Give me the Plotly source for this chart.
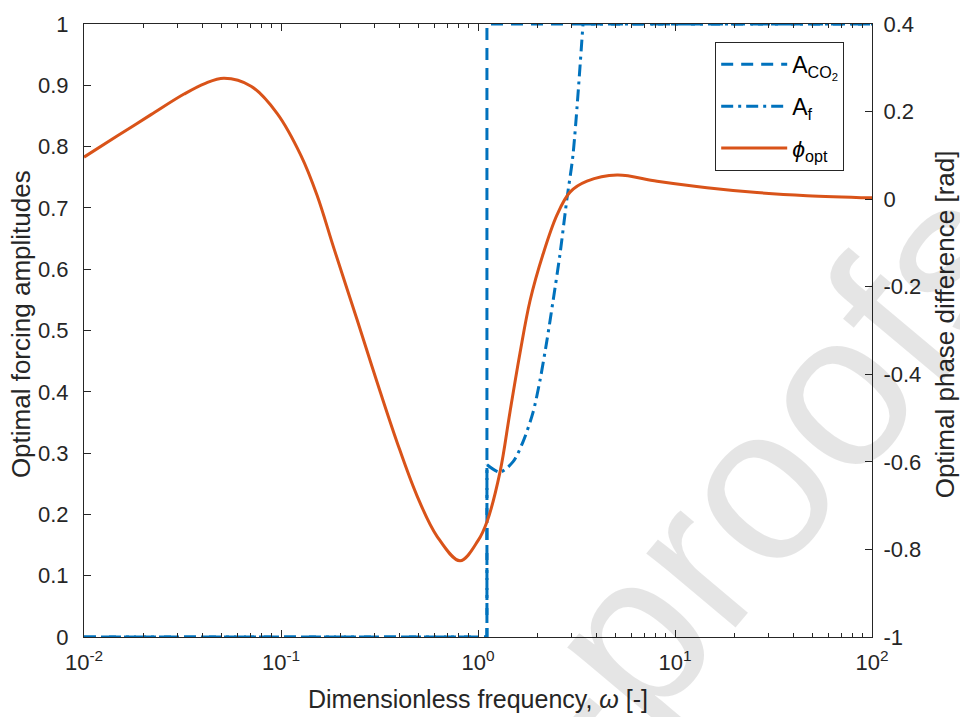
import plotly.graph_objects as go

# ---- data ----
omega_jump = 1.11
aco2_omega = [0.01, omega_jump, omega_jump, 100]
aco2_vals = [0, 0, 1, 1]

af_step_omega = [0.01, omega_jump, omega_jump]
af_step_vals = [0, 0, 0.281]
af_curve_omega = [1.111, 1.294, 1.507, 1.690, 1.901, 2.065, 2.239, 2.404, 2.606, 2.831, 3.034, 3.412]
af_curve_vals = [0.281, 0.269, 0.286, 0.318, 0.366, 0.419, 0.484, 0.548, 0.624, 0.716, 0.786, 1.0]
af_tail_omega = [3.412, 100]
af_tail_vals = [1.0, 1.0]

phi_omega = [0.01, 0.01472, 0.02188, 0.03221, 0.04102, 0.05140, 0.07047, 0.09550, 0.1265, 0.1524,
             0.1858, 0.2432, 0.3069, 0.3882, 0.4898, 0.6194, 0.8110, 1.0, 1.112, 1.294,
             1.452, 1.633, 1.837, 2.138, 2.518, 2.931, 3.573, 5.082, 8.110, 14.52,
             26.06, 46.77, 100]
phi_vals = [0.096, 0.144, 0.193, 0.240, 0.264, 0.276, 0.258, 0.196, 0.099, 0.009,
            -0.113, -0.275, -0.417, -0.555, -0.677, -0.770, -0.826, -0.780, -0.736, -0.623,
            -0.487, -0.352, -0.232, -0.126, -0.036, 0.016, 0.041, 0.055, 0.041, 0.026,
            0.015, 0.008, 0.003]

x_tickvals = [0.01, 0.1, 1, 10, 100]
x_ticktext = ["10<sup>-2</sup>", "10<sup>-1</sup>", "10<sup>0</sup>", "10<sup>1</sup>", "10<sup>2</sup>"]
x_minor = [k * 10.0 ** e for e in (-2, -1, 0, 1) for k in range(2, 10)]
y_tickvals = [i / 10 for i in range(11)]
y_ticktext = ["0", "0.1", "0.2", "0.3", "0.4", "0.5", "0.6", "0.7", "0.8", "0.9", "1"]
y2_tickvals = [-1, -0.8, -0.6, -0.4, -0.2, 0, 0.2, 0.4]
y2_ticktext = ["-1", "-0.8", "-0.6", "-0.4", "-0.2", "0", "0.2", "0.4"]

BLUE = "#0072BD"
ORANGE = "#D95319"
AX = "#262626"
FONT = "Liberation Sans, Arial, sans-serif"
DASH = "12px,8px"
DASHDOT = "12px,5px,3px,5px"
TICKSIZE = 22
TITLESIZE = 25

fig = go.Figure()
fig.add_trace(go.Scatter(x=aco2_omega, y=aco2_vals, mode="lines", name="A<sub>CO<sub>2</sub></sub>",
                         legendgroup="co2", line=dict(color=BLUE, width=3, dash=DASH)))
fig.add_trace(go.Scatter(x=af_step_omega, y=af_step_vals, mode="lines", name="A<sub>f</sub>",
                         legendgroup="af", line=dict(color=BLUE, width=3, dash=DASHDOT)))
fig.add_trace(go.Scatter(x=af_curve_omega, y=af_curve_vals, mode="lines", showlegend=False,
                         legendgroup="af", line=dict(color=BLUE, width=3, dash=DASHDOT, shape="spline", smoothing=0.8)))
fig.add_trace(go.Scatter(x=af_tail_omega, y=af_tail_vals, mode="lines", showlegend=False,
                         legendgroup="af", line=dict(color=BLUE, width=3, dash=DASHDOT)))
fig.add_trace(go.Scatter(x=phi_omega, y=phi_vals, mode="lines", name="<i>ϕ</i><sub>opt</sub>", yaxis="y2",
                         legendgroup="phi", line=dict(color=ORANGE, width=3, shape="spline", smoothing=1.0)))

fig.update_layout(
    width=960, height=717,
    margin=dict(l=84, r=88, t=17, b=80),
    paper_bgcolor="white", plot_bgcolor="white",
    font=dict(family=FONT, size=TICKSIZE, color=AX),
    xaxis=dict(type="log", range=[-2, 2], tickvals=x_tickvals, ticktext=x_ticktext,
               ticks="inside", ticklen=7, tickcolor=AX, showline=True, linecolor=AX, linewidth=1,
               mirror="ticks", showgrid=False, zeroline=False, ticklabelstandoff=6,
               minor=dict(tickvals=x_minor, ticks="inside", ticklen=4, tickcolor=AX, showgrid=False),
               tickfont=dict(size=TICKSIZE)),
    yaxis=dict(range=[0, 1], tickvals=y_tickvals, ticktext=y_ticktext, ticks="inside", ticklen=7,
               tickcolor=AX, showline=True, linecolor=AX, linewidth=1, showgrid=False, zeroline=False,
               ticklabelstandoff=10, tickfont=dict(size=TICKSIZE)),
    yaxis2=dict(range=[-1, 0.4], overlaying="y", side="right", tickvals=y2_tickvals, ticktext=y2_ticktext,
                ticks="inside", ticklen=7, tickcolor=AX, showline=True, linecolor=AX, linewidth=1,
                showgrid=False, zeroline=False, ticklabelstandoff=6, tickfont=dict(size=TICKSIZE)),
    legend=dict(x=0.801, y=0.971, xanchor="left", yanchor="top", bgcolor="white",
                bordercolor=AX, borderwidth=1, font=dict(size=23, color="black"),
                tracegroupgap=9, itemwidth=66),
    showlegend=True,
)

# axis titles
fig.add_annotation(text="Dimensionless frequency, <i>ω</i> [-]", xref="paper", yref="paper",
                   x=0.5, y=-0.101, xanchor="center", yanchor="middle", showarrow=False,
                   font=dict(size=TITLESIZE, color=AX))
fig.add_annotation(text="Optimal forcing amplitudes", xref="paper", yref="paper",
                   x=-0.079, y=0.51, xanchor="center", yanchor="middle", showarrow=False,
                   textangle=-90, font=dict(size=26, color=AX))
fig.add_annotation(text="Optimal phase difference [rad]", xref="paper", yref="paper",
                   x=1.0926, y=0.51, xanchor="center", yanchor="middle", showarrow=False,
                   textangle=-90, font=dict(size=26, color=AX))

# watermark
fig.add_annotation(text="-proofs", xref="paper", yref="paper", x=0.86, y=0.26,
                   xanchor="center", yanchor="middle", showarrow=False, textangle=-50,
                   font=dict(family=FONT, size=220, color="rgba(0,0,0,0.1)"))

fig.write_html("out.html")
